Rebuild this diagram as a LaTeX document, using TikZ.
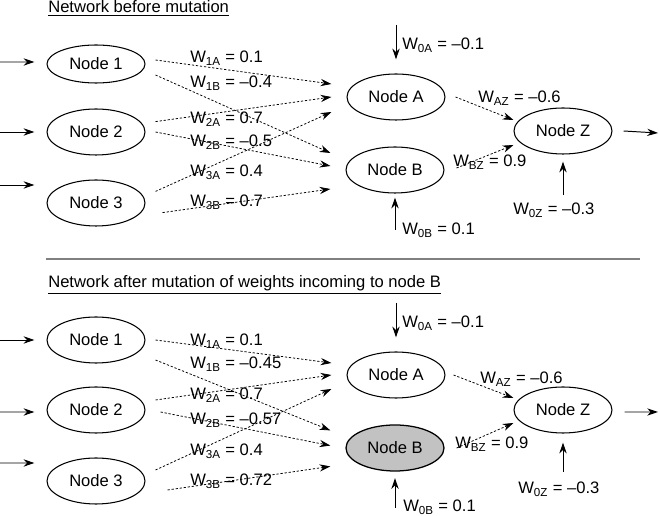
\documentclass[tikz,border=0pt]{standalone}
\usepackage{fontspec}
\setmainfont{Liberation Sans}
\usetikzlibrary{arrows.meta,shapes.geometric}

\tikzset{
  neuron/.style={draw,ellipse,line width=0.75pt,minimum width=2.45cm,minimum height=1.15cm,inner sep=0pt},
  wline/.style={-{Stealth[length=2.7mm,width=1.8mm]},dash pattern=on 1.6pt off 1.3pt,line width=0.55pt},
  bias/.style={-{Stealth[length=2.7mm,width=1.8mm]},line width=0.7pt},
  wlabel/.style={anchor=base west,inner sep=0pt},
}

\begin{document}
\begin{tikzpicture}[font=\fontsize{11.8}{14}\selectfont]
\useasboundingbox (0,0) rectangle (16.5,12.9);

%%% network before mutation
\node[wlabel] (title1) at (1.2,12.575) {\underline{Network before mutation}};

\node[neuron,minimum height=0.95cm] (n1) at (2.4,11.3) {Node 1};
\node[neuron] (n2) at (2.4,9.6) {Node 2};
\node[neuron] (n3) at (2.4,7.825) {Node 3};
\node[neuron] (na) at (9.9,10.475) {Node A};
\node[neuron] (nb) at (9.875,8.65) {Node B};
\node[neuron] (nz) at (14.075,9.625) {Node Z};

% inputs and output
\coordinate (in1) at (0,11.35);
\coordinate (in2) at (0,9.6);
\coordinate (in3) at (0,8.275);
\coordinate (out1) at (16.45,9.575);
\draw[bias] (in1) -- ([xshift=-0.3cm,yshift=0.05cm]n1.west);
\draw[bias] (in2) -- ([xshift=-0.3cm]n2.west);
\draw[bias] (in3) -- ([xshift=-0.3cm,yshift=0.45cm]n3.west);
\draw[bias] ([xshift=0.275cm]nz.east) -- (out1);

% bias weights
\coordinate (b0a) at (9.9,12.275);
\coordinate (b0b) at (9.875,7.15);
\coordinate (b0z) at (14.075,8.025);
\draw[bias] (b0a) -- ([yshift=0.35cm]na.north);
\draw[bias] (b0b) -- ([yshift=-0.1cm]nb.south);
\draw[bias] (b0z) -- ([yshift=-0.175cm]nz.south);

% weighted connections
\draw[wline] ([xshift=0.25cm,yshift=0.1cm]n1.east) -- ([xshift=-0.375cm,yshift=0.325cm]na.west);
\draw[wline] ([xshift=0.25cm,yshift=-0.275cm]n1.east) -- ([xshift=-0.375cm,yshift=0.425cm]nb.west);
\draw[wline] ([xshift=0.25cm,yshift=0.26cm]n2.east) -- ([xshift=-0.375cm]na.west);
\draw[wline] ([xshift=0.25cm]n2.east) -- ([xshift=-0.375cm,yshift=0.1cm]nb.west);
\draw[wline] ([xshift=0.25cm,yshift=0.29cm]n3.east) -- ([xshift=-0.375cm,yshift=-0.375cm]na.west);
\draw[wline] ([xshift=0.425cm,yshift=-0.24cm]n3.east) -- ([xshift=-0.375cm,yshift=-0.475cm]nb.west);
\draw[wline] ([xshift=0.25cm]na.east) -- ([yshift=0.275cm]nz.west);
\draw[wline] ([xshift=0.3cm,yshift=0.05cm]nb.east) -- ([yshift=-0.35cm]nz.west);

\node[wlabel] (w1a) at (4.75,11.325) {W\textsubscript{1A} = 0.1};
\node[wlabel] (w1b) at (4.75,10.7) {W\textsubscript{1B} = --0.4};
\node[wlabel] (w2a) at (4.75,9.8) {W\textsubscript{2A} = 0.7};
\node[wlabel] (w2b) at (4.75,9.225) {W\textsubscript{2B} = --0.5};
\node[wlabel] (w3a) at (4.75,8.475) {W\textsubscript{3A} = 0.4};
\node[wlabel] (w3b) at (4.75,7.725) {W\textsubscript{3B} = 0.7};
\node[wlabel] (w0a) at (10.05,11.65) {W\textsubscript{0A} = --0.1};
\node[wlabel] (waz) at (11.95,10.325) {W\textsubscript{AZ} = --0.6};
\node[wlabel] (wbz) at (11.325,8.725) {W\textsubscript{BZ} = 0.9};
\node[wlabel] (w0z) at (12.825,7.525) {W\textsubscript{0Z} = --0.3};
\node[wlabel] (w0b) at (10.05,7.025) {W\textsubscript{0B} = 0.1};

\draw[gray,line width=1pt] (1.15,6.425) -- (16.0,6.425);

%%% network after mutation
\node[wlabel] (title2) at (1.2,5.7) {\underline{Network after mutation of weights incoming to node B}};

\node[neuron] (m1) at (2.4,4.4) {Node 1};
\node[neuron] (m2) at (2.4,2.65) {Node 2};
\node[neuron] (m3) at (2.4,0.875) {Node 3};
\node[neuron] (ma) at (9.9,3.525) {Node A};
\node[neuron,fill=black!24,line width=0.9pt] (mb) at (9.875,1.7) {Node B};
\node[neuron] (mz) at (14.075,2.65) {Node Z};

% inputs and output
\coordinate (jn1) at (0,4.4);
\coordinate (jn2) at (0,2.6);
\coordinate (jn3) at (0,1.325);
\coordinate (out2) at (16.45,2.6);
\draw[bias] (jn1) -- ([xshift=-0.3cm]m1.west);
\draw[bias] (jn2) -- ([xshift=-0.3cm,yshift=-0.05cm]m2.west);
\draw[bias] (jn3) -- ([xshift=-0.3cm,yshift=0.45cm]m3.west);
\draw[bias] ([xshift=0.3cm,yshift=-0.05cm]mz.east) -- (out2);

% bias weights
\coordinate (c0a) at (9.9,5.325);
\coordinate (c0b) at (9.875,0.2);
\coordinate (c0z) at (14.075,1.1);
\draw[bias] (c0a) -- ([yshift=0.35cm]ma.north);
\draw[bias] (c0b) -- ([yshift=-0.16cm]mb.south);
\draw[bias] (c0z) -- ([yshift=-0.225cm]mz.south);

% weighted connections
\draw[wline] ([xshift=0.25cm]m1.east) -- ([xshift=-0.375cm,yshift=0.3cm]ma.west);
\draw[wline] ([xshift=0.25cm,yshift=-0.5cm]m1.east) -- ([xshift=-0.375cm,yshift=0.44cm]mb.west);
\draw[wline] ([xshift=0.25cm,yshift=0.25cm]m2.east) -- ([xshift=-0.375cm]ma.west);
\draw[wline] ([xshift=0.375cm,yshift=-0.05cm]m2.east) -- ([xshift=-0.375cm,yshift=0.06cm]mb.west);
\draw[wline] ([xshift=0.25cm,yshift=0.275cm]m3.east) -- ([xshift=-0.375cm,yshift=-0.35cm]ma.west);
\draw[wline] ([xshift=0.55cm,yshift=-0.225cm]m3.east) -- ([xshift=-0.375cm,yshift=-0.46cm]mb.west);
\draw[wline] ([xshift=0.2cm]ma.east) -- ([yshift=0.3cm]mz.west);
\draw[wline] ([xshift=0.3cm]mb.east) -- ([yshift=-0.325cm]mz.west);

\node[wlabel] (v1a) at (4.75,4.25) {W\textsubscript{1A} = 0.1};
\node[wlabel] (v1b) at (4.75,3.675) {W\textsubscript{1B} = --0.45};
\node[wlabel] (v2a) at (4.75,2.9) {W\textsubscript{2A} = 0.7};
\node[wlabel] (v2b) at (4.75,2.275) {W\textsubscript{2B} = --0.57};
\node[wlabel] (v3a) at (4.75,1.5) {W\textsubscript{3A} = 0.4};
\node[wlabel] (v3b) at (4.75,0.75) {W\textsubscript{3B} = 0.72};
\node[wlabel] (v0a) at (10.05,4.7) {W\textsubscript{0A} = --0.1};
\node[wlabel] (vaz) at (12.0,3.3) {W\textsubscript{AZ} = --0.6};
\node[wlabel] (vbz) at (11.375,1.675) {W\textsubscript{BZ} = 0.9};
\node[wlabel] (v0z) at (12.95,0.55) {W\textsubscript{0Z} = --0.3};
\node[wlabel] (v0b) at (10.075,0.1) {W\textsubscript{0B} = 0.1};

\end{tikzpicture}
\end{document}
